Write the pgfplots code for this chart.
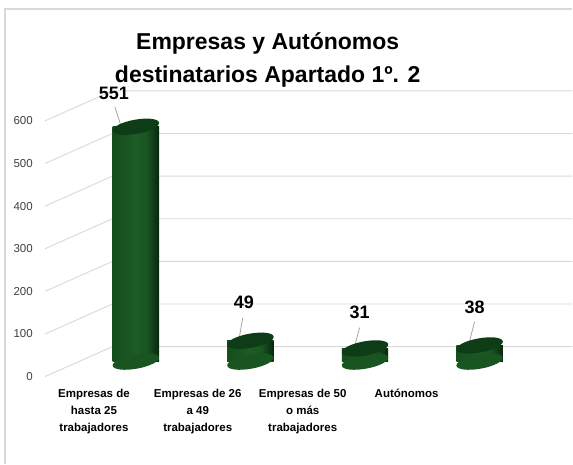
\documentclass[border=0pt]{standalone}
\usepackage{pgfplots}
\pgfplotsset{compat=1.18}
\usepackage{fontspec}
\setmainfont{Liberation Sans}
\definecolor{gL}{RGB}{22,78,30}
\definecolor{gM}{RGB}{25,85,33}
\definecolor{gH}{RGB}{29,93,38}
\definecolor{gE}{RGB}{16,60,23}
\definecolor{gD}{RGB}{8,38,14}
\definecolor{gTop}{RGB}{14,60,22}
\definecolor{gridc}{RGB}{217,217,217}
\definecolor{leadc}{RGB}{166,166,166}
\pgfdeclarehorizontalshading{cyl}{100bp}{color(0bp)=(gL); color(25bp)=(gL); color(40bp)=(gM); color(50bp)=(gH); color(62bp)=(gM); color(69bp)=(gE); color(75bp)=(gD); color(100bp)=(gD)}
\pgfdeclareplotmark{cylend}{%
  \pgfpathellipse{\pgfpointorigin}{\pgfpoint{23.2pt}{4.2pt}}{\pgfpoint{-1.3pt}{7pt}}%
  \pgfusepathqfill}
\begin{document}
\begin{tikzpicture}
\begin{axis}[
  x=114.7pt, y=0.4267pt,
  xmin=-1.1857, xmax=3.8099, ymin=-239, ymax=848.4,
  enlargelimits=false,
  clip=false,
  axis line style={draw=none},
  major tick length=0pt,
  tick style={draw=none},
  axis background/.style={fill=white},
  ytick={0,100,...,600},
  /pgf/number format/assume math mode=true,
  yticklabel style={font=\fontsize{11.5}{13}\selectfont, text=black!75, anchor=east, inner sep=0pt, xshift=33pt, yshift=-15pt},
  xtick={-0.366,0.54,1.456,2.363},
  xticklabels={{Empresas de\\hasta 25\\trabajadores},{Empresas de 26\\a 49\\trabajadores},{Empresas de 50\\o más\\trabajadores},{Autónomos}},
  xticklabel style={font=\fontsize{11.5}{17}\selectfont\bfseries, align=center, anchor=north, inner sep=0pt, yshift=75pt},
  title={Empresas y Autónomos\\destinatarios Apartado 1º. 2},
  title style={at={(rel axis cs:0.4677,0.858)}, anchor=center, align=center, inner sep=0pt, font=\fontsize{23}{33}\selectfont\bfseries},
]
% chart border
\addplot[gridc, line width=1.2pt] coordinates {(-1.1421,-239) (-1.1421,827.3) (3.8099,827.3)};
% gridlines: left wall (front to back) and back wall
\addplot[gridc, line width=0.9pt] coordinates {(-0.793,-35.15) (-0.205,35.15) (3.8099,35.15)};
\addplot[gridc, line width=0.9pt] coordinates {(-0.793,64.85) (-0.205,135.15) (3.8099,135.15)};
\addplot[gridc, line width=0.9pt] coordinates {(-0.793,164.85) (-0.205,235.15) (3.8099,235.15)};
\addplot[gridc, line width=0.9pt] coordinates {(-0.793,264.85) (-0.205,335.15) (3.8099,335.15)};
\addplot[gridc, line width=0.9pt] coordinates {(-0.793,364.85) (-0.205,435.15) (3.8099,435.15)};
\addplot[gridc, line width=0.9pt] coordinates {(-0.793,464.85) (-0.205,535.15) (3.8099,535.15)};
\addplot[gridc, line width=0.9pt] coordinates {(-0.793,564.85) (-0.205,635.15) (3.8099,635.15)};
% cylinder bottoms
\addplot[only marks, mark=cylend, color=gM] coordinates {(0,0) (1,0) (2,0) (3,0)};
% cylinder bodies
\addplot[ybar, bar width=0.405, bar shift=0pt, draw=none, shading=cyl] coordinates {(0,551)};
\addplot[ybar, bar width=0.405, bar shift=0pt, draw=none, shading=cyl] coordinates {(1,49)};
\addplot[ybar, bar width=0.405, bar shift=0pt, draw=none, shading=cyl] coordinates {(2,31)};
\addplot[ybar, bar width=0.405, bar shift=0pt, draw=none, shading=cyl] coordinates {(3,38)};
% cylinder tops
\addplot[only marks, mark=cylend, color=gTop] coordinates {(0,551) (1,49) (2,31) (3,38)};
% leader lines
\addplot[leadc, line width=0.8pt] coordinates {(-0.183,597.6) (-0.113,539)};
\addplot[leadc, line width=0.8pt] coordinates {(0.933,103.1) (0.889,35.2)};
\addplot[leadc, line width=0.8pt] coordinates {(1.953,79.7) (1.892,18.7)};
\addplot[leadc, line width=0.8pt] coordinates {(2.956,93.7) (2.894,28.1)};
% data labels
\addplot[draw=none, mark=none, nodes near coords, point meta=explicit symbolic,
  every node near coord/.append style={anchor=center, inner sep=0pt, text=black, font=\fontsize{18}{20}\selectfont\bfseries}]
  coordinates {(-0.192,630.4)[551] (0.942,138.3)[49] (1.953,116)[31] (2.956,127.7)[38]};
\end{axis}
\end{tikzpicture}
\end{document}
